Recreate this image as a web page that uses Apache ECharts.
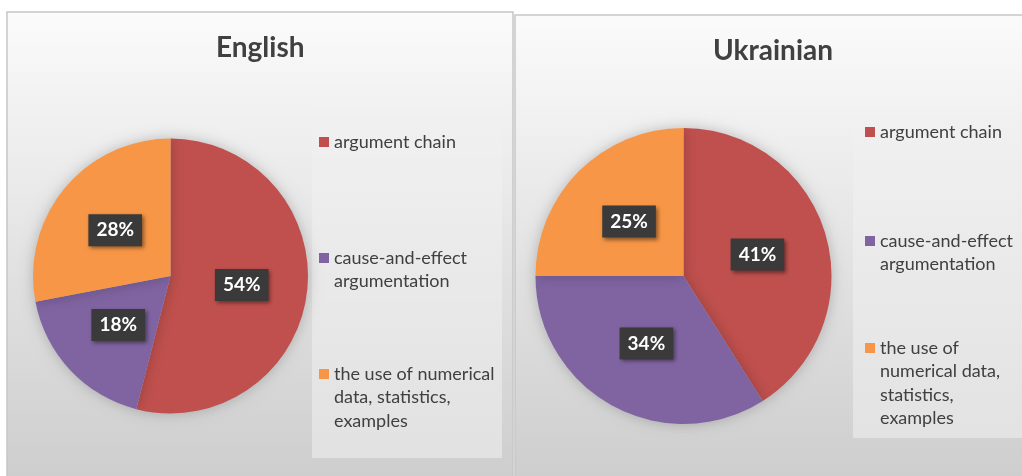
<!DOCTYPE html>
<html>
<head>
<meta charset="utf-8">
<script src="https://cdn.jsdelivr.net/npm/echarts@6/dist/echarts.min.js"></script>
<style>
html,body{margin:0;padding:0;background:#fff;}
#chart{width:1022px;height:476px;}
</style>
</head>
<body>
<div id="chart"></div>
<script>
// ---- data ----
const titles = ['English', 'Ukrainian'];
const categories = ['argument chain', 'cause-and-effect argumentation', 'the use of numerical data, statistics, examples'];
const englishValues = [54, 18, 28];
const ukrainianValues = [41, 34, 25];
// legend text as wrapped in the reference
const legendTextEnglish = ['argument chain', 'cause-and-effect\nargumentation', 'the use of numerical\ndata, statistics,\nexamples'];
const legendTextUkrainian = ['argument chain', 'cause-and-effect\nargumentation', 'the use of\nnumerical data,\nstatistics,\nexamples'];

const colors = ['#C0504D', '#8064A2', '#F79646'];
const FONT = 'Lato, "Open Sans", sans-serif';
const LH = 23.5;

const chart = echarts.init(document.getElementById('chart'), null, {renderer: 'canvas'});

function makeSeries(name, values, center, radius) {
  return {
    type: 'pie',
    name: name,
    center: center,
    radius: radius,
    startAngle: 90,
    clockwise: true,
    emphasis: {scale: false},
    itemStyle: {
      borderWidth: 0,
      shadowBlur: 14,
      shadowColor: 'rgba(0,0,0,0.22)'
    },
    label: {
      show: true,
      position: 'inside',
      formatter: '{c}%',
      color: '#ffffff',
      fontFamily: FONT,
      fontWeight: 'bold',
      fontSize: 19,
      backgroundColor: '#3a3a3a',
      padding: [7, 8, 6, 8],
      shadowColor: 'rgba(0,0,0,0.45)',
      shadowBlur: 4,
      shadowOffsetX: 2,
      shadowOffsetY: 2
    },
    labelLine: {show: false},
    data: categories.map((c, i) => ({name: c, value: values[i], itemStyle: {color: colors[i]}}))
  };
}

// The legend centres its text block on the icon; blank lines are prepended so
// that the icon sits beside the first text line, as in the reference.
function makeLegends(left, firstLineCenters, texts) {
  return categories.map((c, i) => {
    const lines = texts[i].split('\n');
    const n = lines.length;
    const shown = new Array(n - 1).fill(' ').concat(lines).join('\n');
    const top = firstLineCenters[i] - (2 * n - 1) * LH / 2;
    return {
      data: [c],
      orient: 'vertical',
      left: left,
      top: top,
      padding: 0,
      icon: 'rect',
      itemWidth: 10,
      itemHeight: 10,
      selectedMode: false,
      formatter: () => shown,
      textStyle: {
        fontFamily: FONT,
        fontSize: 18,
        color: '#404040',
        lineHeight: LH
      }
    };
  });
}

const bgGradient = () => new echarts.graphic.LinearGradient(0, 0, 0, 1, [
  {offset: 0, color: '#fbfbfb'},
  {offset: 0.45, color: '#e6e6e6'},
  {offset: 1, color: '#cdcdcd'}
]);

const option = {
  animation: false,
  graphic: [
    {type: 'rect', shape: {x: 7, y: 12, width: 506, height: 470}, style: {fill: bgGradient(), stroke: '#c6c6c6', lineWidth: 1.5}, z: -10},
    {type: 'rect', shape: {x: 515, y: 15, width: 512, height: 470}, style: {fill: bgGradient(), stroke: '#c6c6c6', lineWidth: 1.5}, z: -10},
    {type: 'rect', shape: {x: 312, y: 107, width: 190, height: 351}, style: {fill: 'rgba(240,240,240,0.55)'}, z: -9},
    {type: 'rect', shape: {x: 853, y: 113, width: 170, height: 325}, style: {fill: 'rgba(240,240,240,0.55)'}, z: -9}
  ],
  title: [
    {text: titles[0], left: 216, top: 34, padding: 0,
     textStyle: {fontFamily: FONT, fontSize: 28, fontWeight: 'bold', color: '#404040'}},
    {text: titles[1], left: 713, top: 37, padding: 0,
     textStyle: {fontFamily: FONT, fontSize: 28, fontWeight: 'bold', color: '#404040'}}
  ],
  legend: [].concat(
    makeLegends(319, [142, 258, 374], legendTextEnglish),
    makeLegends(865, [132, 241, 348], legendTextUkrainian)
  ),
  series: [
    makeSeries(titles[0], englishValues, [170.5, 276], 137.5),
    makeSeries(titles[1], ukrainianValues, [683.5, 276], 148)
  ]
};
chart.setOption(option);
</script>
</body>
</html>
